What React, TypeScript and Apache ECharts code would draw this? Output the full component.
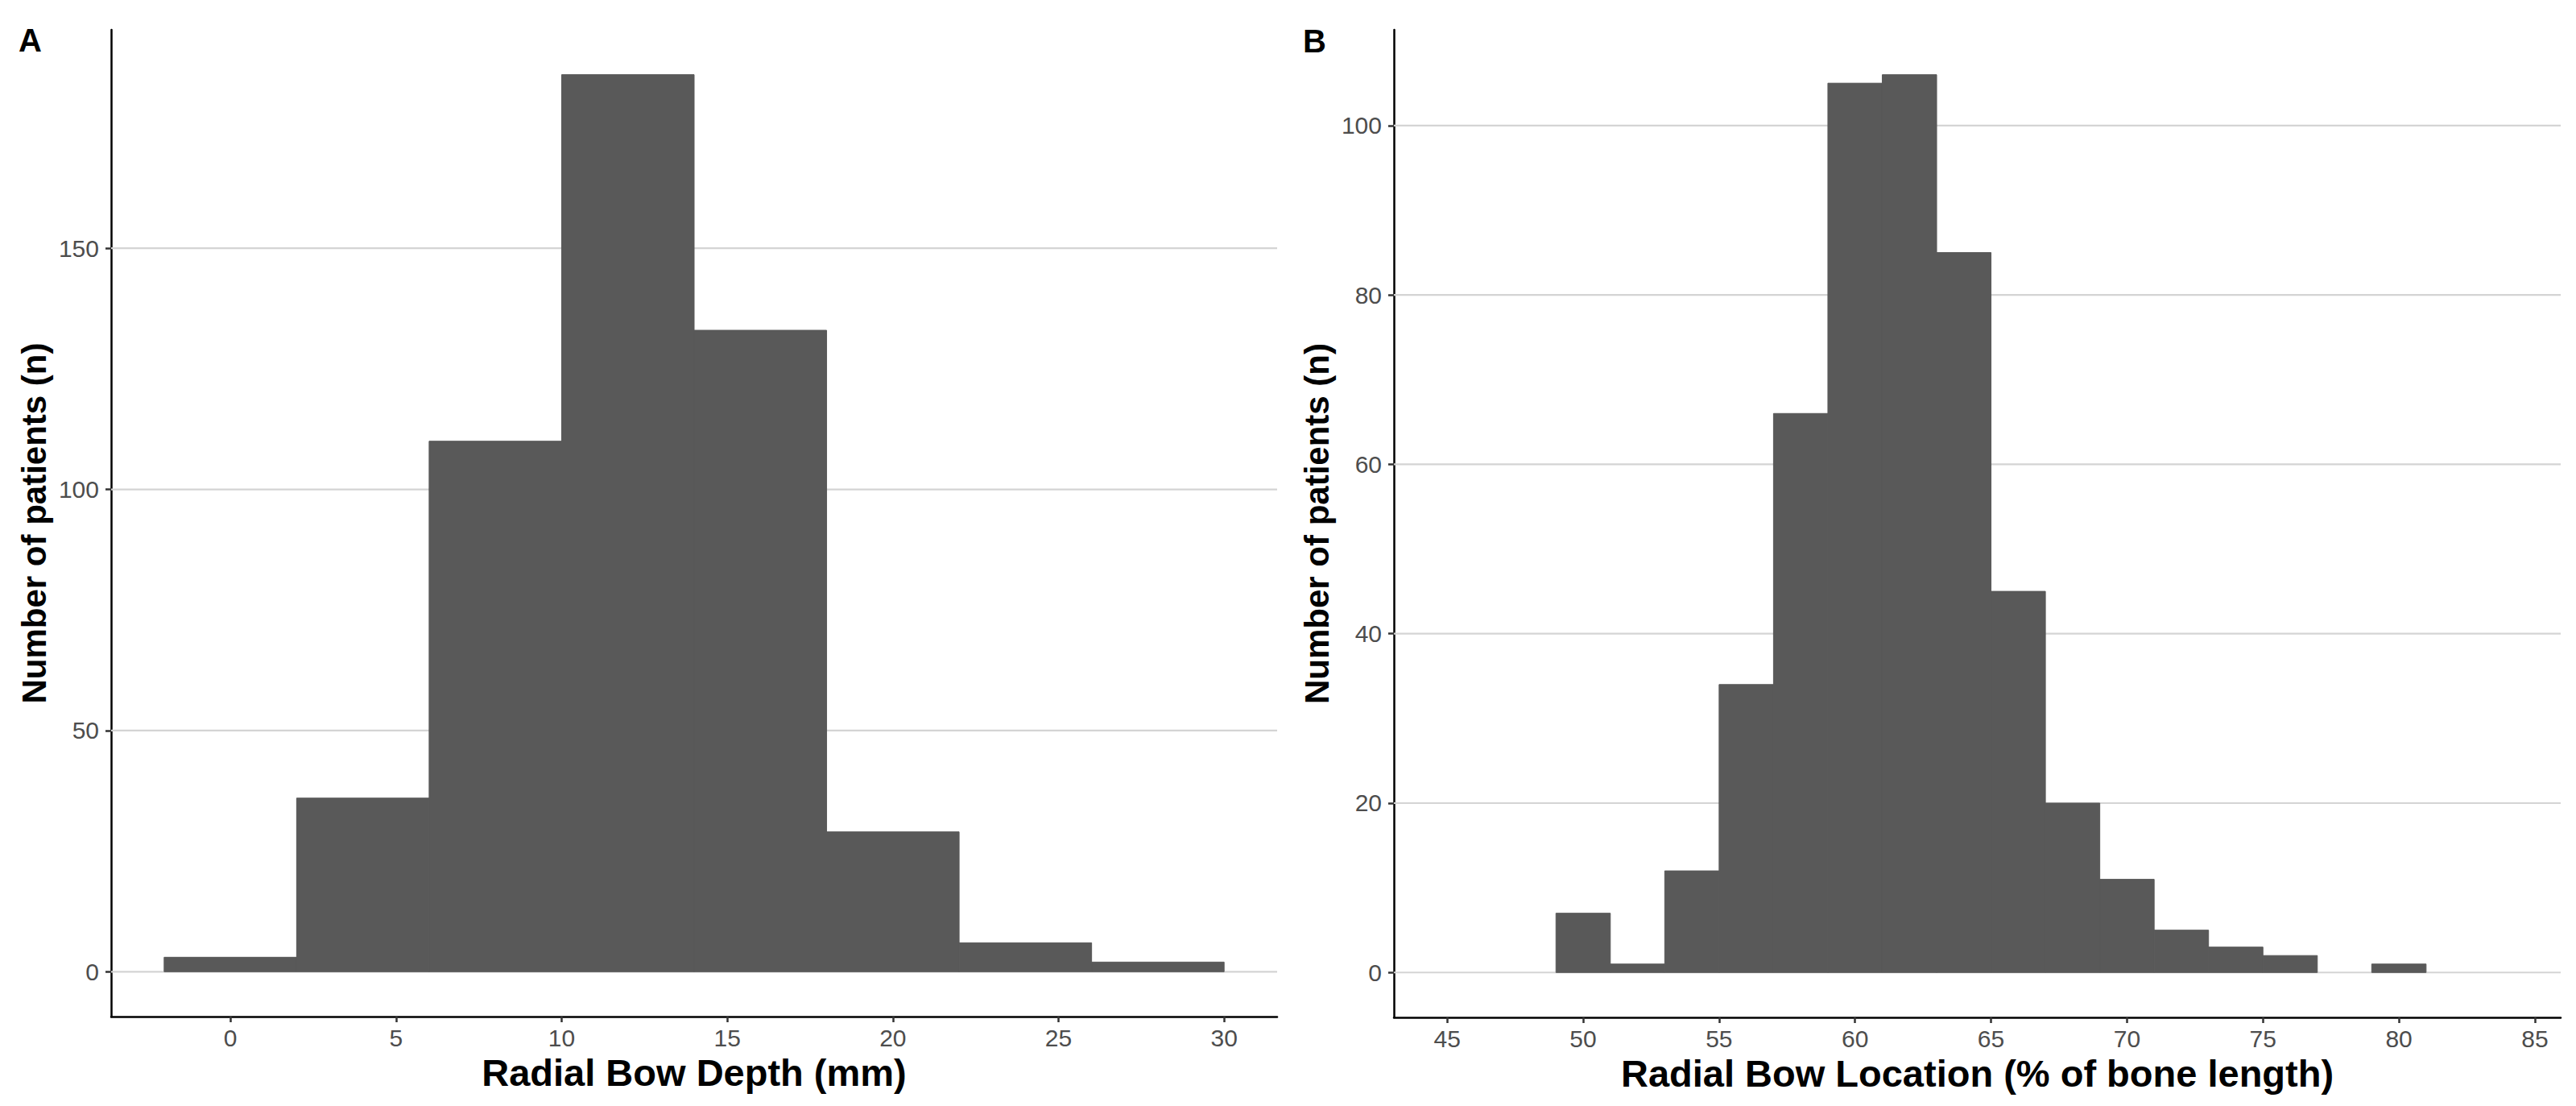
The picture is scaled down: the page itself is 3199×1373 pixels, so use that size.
import React, { useEffect, useRef } from "react";
import * as echarts from "echarts";

// Panel A: Radial Bow Depth (mm), bin width 4
const depthBinStarts = [-2, 2, 6, 10, 14, 18, 22, 26];
const depthBinEnds = [2, 6, 10, 14, 18, 22, 26, 30];
const depthCounts = [3, 36, 110, 186, 133, 29, 6, 2];
const depthXTicks = [0, 5, 10, 15, 20, 25, 30];
const depthYTicks = [0, 50, 100, 150];

// Panel B: Radial Bow Location (% of bone length), bin width 2
const locBinStarts = [49, 51, 53, 55, 57, 59, 61, 63, 65, 67, 69, 71, 73, 75, 77, 79];
const locBinEnds = [51, 53, 55, 57, 59, 61, 63, 65, 67, 69, 71, 73, 75, 77, 79, 81];
const locCounts = [7, 1, 12, 34, 66, 105, 106, 85, 45, 20, 11, 5, 3, 2, 0, 1];
const locXTicks = [45, 50, 55, 60, 65, 70, 75, 80, 85];
const locYTicks = [0, 20, 40, 60, 80, 100];

const FONT = "'Liberation Sans', Arial, Helvetica, sans-serif";
const BAR = "#595959";
const GRID = "#D4D4D4";

function histSeries(idx: number, starts: number[], ends: number[], counts: number[]) {
  return {
    type: "custom",
    xAxisIndex: idx,
    yAxisIndex: idx,
    z: 3,
    silent: true,
    data: starts.map((s, i) => [s, ends[i], counts[i]]),
    encode: { x: [0, 1], y: 2 },
    renderItem: (params: any, api: any) => {
      const a = api.coord([api.value(0), api.value(2)]);
      const b = api.coord([api.value(1), 0]);
      if (api.value(2) <= 0) return null;
      return {
        type: "rect",
        shape: { x: a[0], y: a[1], width: b[0] - a[0], height: b[1] - a[1] },
        style: { fill: BAR, stroke: BAR, lineWidth: 1 },
      };
    },
  };
}

function gridSeries(idx: number, ticks: number[], xmin: number, xmax: number) {
  return {
    type: "custom",
    xAxisIndex: idx,
    yAxisIndex: idx,
    z: 1,
    silent: true,
    data: ticks.map((t) => [xmin, t, xmax]),
    encode: { x: [0, 2], y: 1 },
    renderItem: (params: any, api: any) => {
      const a = api.coord([api.value(0), api.value(1)]);
      const b = api.coord([api.value(2), api.value(1)]);
      return {
        type: "line",
        shape: { x1: a[0], y1: a[1], x2: b[0], y2: b[1] },
        style: { stroke: GRID, lineWidth: 2.2 },
      };
    },
  };
}

function xAxis(idx: number, min: number, max: number, ticks: number[], name: string) {
  return {
    type: "value",
    gridIndex: idx,
    min,
    max,
    name,
    nameLocation: "middle",
    nameGap: 41,
    nameTextStyle: { fontFamily: FONT, fontSize: 47, fontWeight: "bold", color: "#000" },
    axisLine: { show: true, onZero: false, lineStyle: { color: "#000", width: 2.5 } },
    axisTick: { show: true, length: 7, customValues: ticks, lineStyle: { color: "#333", width: 2.5 } },
    axisLabel: { show: true, customValues: ticks, margin: 11, color: "#4D4D4D", fontSize: 30, fontFamily: FONT },
    splitLine: { show: false },
  };
}

function yAxis(idx: number, min: number, max: number, ticks: number[]) {
  return {
    type: "value",
    gridIndex: idx,
    min,
    max,
    name: "Number of patients (n)",
    nameLocation: "middle",
    nameRotate: 90,
    nameGap: 75,
    nameTextStyle: { fontFamily: FONT, fontSize: 42, fontWeight: "bold", color: "#000" },
    axisLine: { show: true, onZero: false, lineStyle: { color: "#000", width: 2.5 } },
    axisTick: { show: true, length: 7, customValues: ticks, lineStyle: { color: "#333", width: 2.5 } },
    axisLabel: { show: true, customValues: ticks, margin: 15, color: "#4D4D4D", fontSize: 30, fontFamily: FONT },
    splitLine: { show: false },
  };
}

export default function App() {
  const ref = useRef<HTMLDivElement>(null);
  useEffect(() => {
    if (!ref.current) return;
    const chart = echarts.init(ref.current, undefined, { renderer: "svg" });
    const xA: [number, number] = [-3.6, 31.6];
    const xB: [number, number] = [43.04, 85.95];
    chart.setOption({
      animation: false,
      backgroundColor: "#fff",
      grid: [
        { left: 138, right: 3199 - 1586, top: 37, bottom: 1373 - 1262, containLabel: false },
        { left: 1731, right: 3199 - 3180, top: 37, bottom: 1373 - 1263, containLabel: false },
      ],
      xAxis: [
        xAxis(0, xA[0], xA[1], depthXTicks, "Radial Bow Depth (mm)"),
        xAxis(1, xB[0], xB[1], locXTicks, "Radial Bow Location (% of bone length)"),
      ],
      yAxis: [yAxis(0, -9.3, 195.3, depthYTicks), yAxis(1, -5.3, 111.3, locYTicks)],
      graphic: [
        { type: "text", left: 23, top: 30, style: { text: "A", font: `bold 40px ${FONT}`, fill: "#000" } },
        { type: "text", left: 1618, top: 31, style: { text: "B", font: `bold 40px ${FONT}`, fill: "#000" } },
      ],
      series: [
        gridSeries(0, depthYTicks, xA[0], xA[1]),
        histSeries(0, depthBinStarts, depthBinEnds, depthCounts),
        gridSeries(1, locYTicks, xB[0], xB[1]),
        histSeries(1, locBinStarts, locBinEnds, locCounts),
      ],
    });
    return () => chart.dispose();
  }, []);
  return (
    <div
      ref={ref}
      style={{ position: "absolute", left: 0, top: 0, width: 3199, height: 1373, background: "#fff" }}
    />
  );
}
